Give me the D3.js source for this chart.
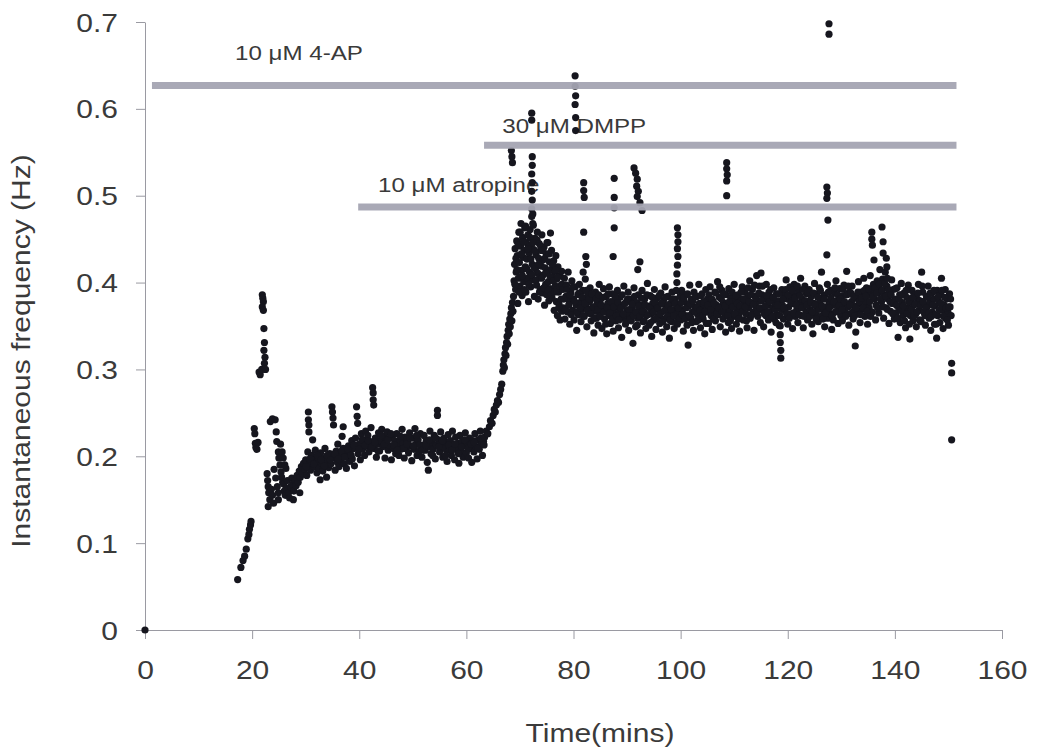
<!DOCTYPE html>
<html>
<head>
<meta charset="utf-8">
<script src="https://cdn.jsdelivr.net/npm/d3@7"></script>
<style>
  html, body { margin: 0; padding: 0; background: #fff; }
  svg { display: block; }
  text { font-family: "Liberation Sans", Arial, sans-serif; fill: #3a3a3a; }
</style>
</head>
<body>
<svg id="chart" width="1043" height="748"></svg>
<script>
// Axis ticks
const xTickValues = [0, 20, 40, 60, 80, 100, 120, 140, 160];
const yTickValues = [0, 0.1, 0.2, 0.3, 0.4, 0.5, 0.6, 0.7];

// Drug applications: label, start (min), end (min), bar level (Hz)
const treatmentNames = ["10 \u03bcM 4-AP", "30 \u03bcM DMPP", "10 \u03bcM atropine"];
const treatmentStart = [1.3, 63.3, 39.8];
const treatmentEnd = [151.5, 151.5, 151.5];
const treatmentLevel = [0.627, 0.558, 0.487];

// Instantaneous frequency recordings, [time (min), frequency (Hz)]
const onsetPoints = [
  [0, 0],
  [17.3,0.058],[17.9,0.072],[18.3,0.080],[18.6,0.085],[18.9,0.093],[19.2,0.105],[19.4,0.110],[19.5,0.116],[19.7,0.121],[19.8,0.125],
  [20.4,0.232],[20.5,0.226],[20.6,0.215],[20.7,0.210],[20.9,0.208],[21.1,0.216],
  [21.3,0.297],[21.5,0.294],[21.8,0.300],
  [21.9,0.386],[22.0,0.382],[22.1,0.378],[21.9,0.372],[22.1,0.368],[22.2,0.347],[22.3,0.331],[22.2,0.322],[22.4,0.314],[22.3,0.307],[22.5,0.300],
  [22.8,0.180],[22.9,0.172],[23.0,0.165],[23.1,0.158],[23.3,0.150],[23.0,0.142],[23.6,0.162],[23.8,0.155],[24.0,0.146],[24.9,0.150],[24.9,0.158],
  [23.4,0.240],[23.8,0.243],[24.3,0.242],[24.5,0.228],[24.6,0.217],[24.9,0.205],[25.0,0.198],[25.2,0.190],[25.4,0.182],[25.5,0.176],
  [25.3,0.214],[25.6,0.205],[25.8,0.198],[26.1,0.190],[26.3,0.186],[24.1,0.185],[24.4,0.175],[24.7,0.165],
  [25.7,0.170],[25.9,0.168],[26.0,0.160],[26.2,0.155],[26.4,0.163],[26.6,0.172],[26.8,0.158],[27.0,0.152],[27.2,0.165],[27.4,0.175],
  [27.6,0.168],[27.7,0.150],[27.8,0.160],[28.0,0.172],[28.2,0.166],[28.4,0.178],[28.6,0.170],[28.8,0.183],[28.9,0.158],[29.0,0.176],
  [29.2,0.188],[29.4,0.180],[29.6,0.192]
];

const plateauPoints = [
  [29.8,0.185],[30.0,0.196],[30.2,0.178],[30.4,0.205],[30.5,0.251],[30.5,0.242],[30.6,0.236],[30.6,0.228],[30.7,0.191],[30.9,0.184],
  [31.1,0.201],[31.3,0.219],[31.4,0.196],[31.6,0.188],[31.8,0.207],[32.0,0.193],[32.1,0.181],[32.3,0.199],[32.5,0.186],[32.7,0.173],
  [32.8,0.204],[33.0,0.192],[33.2,0.183],[33.4,0.198],[33.6,0.209],[33.7,0.189],[33.9,0.176],[34.1,0.195],[34.3,0.187],[34.5,0.203],
  [34.7,0.191],[34.9,0.257],[35.0,0.251],[35.1,0.244],[35.2,0.236],[35.3,0.198],[35.5,0.184],[35.7,0.206],[35.9,0.193],[36.0,0.214],
  [36.2,0.188],[36.4,0.201],[36.6,0.195],[36.8,0.223],[37.0,0.234],[37.0,0.209],[37.2,0.191],[37.4,0.204],[37.6,0.186],[37.8,0.199],
  [38.0,0.212],[38.2,0.194],[38.4,0.207],[38.6,0.218],[38.7,0.197],[38.9,0.209],[39.1,0.189],[39.3,0.221],[39.5,0.257],[39.6,0.246],
  [39.7,0.238],[39.8,0.203],[40.0,0.214],[40.2,0.196],[40.4,0.226],[40.6,0.208],[40.8,0.219],[41.0,0.201],[41.2,0.229],[41.4,0.212],
  [41.6,0.224],[41.8,0.205],[42.0,0.217],[42.2,0.233],[42.5,0.279],[42.6,0.273],[42.6,0.265],[42.7,0.259],[42.8,0.209],[43.0,0.221],
  [43.2,0.199],[43.4,0.214],[43.6,0.227],[43.8,0.206],[44.0,0.218],[44.2,0.231],[44.4,0.211],[44.6,0.223],[44.8,0.198],[45.0,0.216],
  [45.2,0.228],[45.4,0.207],[45.6,0.221],[45.8,0.212],[46.0,0.196],[46.2,0.224],[46.4,0.209],[46.6,0.218],[46.8,0.203],[47.0,0.226],
  [47.2,0.213],[47.4,0.201],[47.6,0.219],[47.8,0.208],[48.0,0.231],[48.2,0.215],[48.4,0.198],[48.6,0.222],[48.8,0.209],[49.0,0.217],
  [49.2,0.204],[49.4,0.227],[49.6,0.212],[49.8,0.195],[50.0,0.221],[50.2,0.208],[50.4,0.232],[50.6,0.214],[50.8,0.201],[51.0,0.219],
  [51.2,0.206],[51.4,0.226],[51.7,0.199],[51.9,0.213],[52.1,0.224],[52.3,0.207],[52.5,0.218],[52.7,0.193],[52.9,0.184],[53.0,0.211],
  [53.2,0.229],[53.4,0.203],[53.6,0.216],[53.8,0.208],[54.0,0.224],[54.2,0.197],[54.4,0.213],[54.6,0.253],[54.6,0.247],[54.8,0.219],
  [55.0,0.205],[55.2,0.228],[55.4,0.212],[55.6,0.199],[55.8,0.221],[56.0,0.209],[56.2,0.216],[56.4,0.194],[56.6,0.225],[56.8,0.207],
  [57.0,0.218],[57.2,0.201],[57.4,0.229],[57.6,0.213],[57.8,0.196],[58.0,0.222],[58.2,0.208],[58.4,0.215],[58.6,0.192],[58.8,0.224],
  [59.0,0.206],[59.2,0.217],[59.4,0.199],[59.6,0.212],[59.8,0.227],[60.0,0.204],[60.2,0.215],[60.4,0.198],[60.6,0.221],[60.8,0.209],
  [61.0,0.193],[61.2,0.218],[61.4,0.205],[61.6,0.226],[61.8,0.211],[62.0,0.197],[62.2,0.219],[62.4,0.208],[62.6,0.229],[62.8,0.214],
  [63.0,0.201],[63.2,0.217],
  [30.1,0.188],[30.8,0.197],[31.5,0.191],[32.2,0.201],[32.9,0.196],[33.5,0.189],[34.0,0.201],[34.6,0.196],[35.4,0.203],[36.1,0.197],
  [36.7,0.206],[37.3,0.199],[37.9,0.208],[38.5,0.201],[39.0,0.213],[39.9,0.208],[40.5,0.219],[41.1,0.213],[41.7,0.218],[42.3,0.211],
  [42.9,0.216],[43.5,0.206],[44.1,0.224],[44.7,0.214],[45.3,0.219],[45.9,0.226],[46.5,0.213],[47.1,0.207],[47.7,0.223],[48.3,0.209],
  [48.9,0.214],[49.5,0.221],[50.1,0.212],[50.7,0.224],[51.3,0.213],[51.8,0.207],[52.4,0.213],[53.1,0.219],[53.7,0.201],[54.3,0.221],
  [54.9,0.211],[55.5,0.218],[56.1,0.201],[56.7,0.213],[57.3,0.207],[57.9,0.214],[58.5,0.203],[59.1,0.211],[59.7,0.219],[60.3,0.209],
  [60.9,0.214],[61.5,0.216],[62.1,0.209],[62.7,0.221],[63.3,0.213]
];

const risePoints = [
  [63.4,0.222],[63.7,0.229],[64.0,0.226],[64.3,0.234],[64.5,0.241],[64.8,0.238],[65.0,0.247],[65.2,0.254],[65.4,0.251],[65.6,0.259],
  [65.8,0.264],[66.0,0.262],[66.2,0.271],[66.4,0.277],[66.6,0.283],[66.8,0.298],[66.9,0.305],[67.0,0.311],[67.1,0.302],[67.2,0.318],
  [67.3,0.325],[67.4,0.316],[67.5,0.331],[67.6,0.338],[67.7,0.329],[67.8,0.345],[67.9,0.352],[68.0,0.341],[68.1,0.358],[68.2,0.349],
  [68.3,0.364],[68.4,0.371],[68.5,0.356],[68.6,0.377],[68.7,0.367]
];

const peakPoints = [
  [68.8,0.384],[68.9,0.402],[69.0,0.421],[69.1,0.439],[69.2,0.392],[69.3,0.412],[69.4,0.448],[69.5,0.431],[69.6,0.376],[69.7,0.405],
  [69.8,0.458],[69.9,0.423],[70.0,0.396],[70.1,0.442],[70.2,0.468],[70.3,0.414],[70.4,0.385],[70.5,0.452],[70.6,0.429],[70.7,0.401],
  [70.8,0.437],[70.9,0.463],[71.0,0.418],[71.1,0.389],[71.2,0.446],[71.3,0.427],[71.4,0.405],[71.5,0.455],[71.6,0.378],[71.7,0.434],
  [71.8,0.412],[71.9,0.461],[72.0,0.395],[72.1,0.443],[72.2,0.476],[72.3,0.421],[72.4,0.468],[72.5,0.403],[72.6,0.438],[72.7,0.384],
  [72.8,0.451],[72.9,0.416],[73.0,0.432],[73.1,0.397],[73.2,0.449],[73.3,0.411],[73.4,0.381],[73.5,0.428],[73.6,0.445],[73.7,0.406],
  [73.8,0.392],[73.9,0.437],[74.0,0.419],[74.1,0.455],[74.2,0.388],[74.3,0.426],[74.4,0.409],[74.5,0.441],[74.6,0.374],[74.7,0.417],
  [74.8,0.398],[74.9,0.433],[75.0,0.386],[75.1,0.412],[75.2,0.446],[75.3,0.401],[75.4,0.379],[75.5,0.424],[75.6,0.393],[75.7,0.457],
  [75.8,0.415],[75.9,0.437],[76.0,0.382],[76.1,0.407],[76.2,0.391],[76.3,0.425],[76.4,0.368],[76.5,0.413],[76.6,0.396],[76.7,0.431],
  [76.8,0.378],[76.9,0.404],[77.0,0.362],[77.1,0.418],[77.2,0.389],[77.3,0.375],[77.4,0.408],[77.5,0.357],[77.6,0.394],[77.7,0.381],
  [77.8,0.413],[77.9,0.367],
  [69.05,0.398],[69.25,0.428],[69.45,0.415],[69.65,0.443],[69.85,0.389],[70.05,0.458],[70.25,0.433],[70.45,0.408],[70.65,0.447],[70.85,0.392],
  [71.05,0.465],[71.25,0.416],[71.45,0.439],[71.65,0.398],[71.85,0.452],[72.05,0.427],[72.25,0.409],[72.45,0.446],[72.65,0.418],[72.85,0.436],
  [73.05,0.403],[73.25,0.458],[73.45,0.421],[73.65,0.389],[73.85,0.442],[74.05,0.405],[74.25,0.437],[74.45,0.394],[74.65,0.428],[74.85,0.411],
  [75.05,0.446],[75.25,0.391],[75.45,0.433],[75.65,0.407],[75.85,0.386],[76.05,0.421],[76.25,0.402],[76.45,0.389],[76.65,0.414],[76.85,0.392],
  [77.05,0.406],[77.25,0.371],[77.45,0.396],[77.65,0.369],[77.85,0.398]
];

const steadyEarly = [
  [78.0,0.392],[78.1,0.371],[78.3,0.405],[78.4,0.358],[78.6,0.384],[78.7,0.397],[78.9,0.366],[79.0,0.412],[79.2,0.379],[79.3,0.352],
  [79.5,0.389],[79.7,0.402],[79.8,0.368],[80.0,0.381],[80.1,0.357],[80.3,0.395],[80.5,0.374],[80.6,0.345],[80.8,0.386],[80.9,0.363],
  [81.1,0.398],[81.2,0.377],[81.4,0.355],[81.5,0.369],[81.7,0.391],[81.9,0.382],[82.0,0.361],[82.2,0.404],[82.3,0.372],[82.5,0.349],
  [82.7,0.386],[82.8,0.365],[83.0,0.378],[83.1,0.394],[83.3,0.356],[83.5,0.371],[83.6,0.383],[83.8,0.342],[84.0,0.367],[84.1,0.389],
  [84.3,0.359],[84.4,0.376],[84.6,0.351],[84.8,0.398],[84.9,0.364],[85.1,0.381],[85.3,0.347],[85.4,0.372],[85.6,0.393],[85.8,0.358],
  [85.9,0.369],[86.1,0.384],[86.2,0.341],[86.4,0.376],[86.6,0.362],[86.7,0.395],[86.9,0.353],[87.1,0.371],[87.2,0.387],[87.4,0.344],
  [87.6,0.365],[87.7,0.379],[87.9,0.356]
];

const steadyMid = [
  [88.1,0.372],[88.2,0.391],[88.4,0.348],[88.6,0.366],[88.7,0.383],[88.9,0.359],[89.0,0.337],[89.2,0.374],[89.4,0.396],[89.5,0.361],
  [89.7,0.352],[89.9,0.378],[90.0,0.368],[90.2,0.389],[90.3,0.345],[90.5,0.363],[90.7,0.381],[90.8,0.356],[91.0,0.372],[91.1,0.330],
  [91.3,0.394],[91.5,0.366],[91.6,0.349],[91.8,0.377],[92.0,0.359],[92.1,0.386],[92.3,0.368],[92.5,0.342],[92.6,0.374],[92.8,0.391],
  [93.0,0.355],[93.1,0.367],[93.3,0.381],[93.5,0.347],[93.6,0.362],[93.8,0.399],[94.0,0.373],[94.1,0.351],[94.3,0.385],[94.5,0.364],
  [94.6,0.338],[94.8,0.376],[95.0,0.357],[95.1,0.392],[95.3,0.369],[95.4,0.346],[95.6,0.382],[95.8,0.361],[95.9,0.374],[96.1,0.353],
  [96.3,0.388],[96.4,0.366],[96.6,0.343],[96.8,0.379],[96.9,0.358],[97.1,0.395],[97.3,0.371],[97.4,0.349],[97.6,0.384],[97.8,0.363],
  [97.9,0.336],[98.1,0.376],[98.3,0.355],[98.4,0.389],[98.6,0.368],[98.8,0.347],[98.9,0.381],[99.1,0.361],[99.3,0.372],[99.4,0.352],
  [99.7,0.365],[99.9,0.384],
  [100.0,0.357],[100.2,0.391],[100.4,0.369],[100.5,0.344],[100.7,0.378],[100.9,0.362],[101.0,0.386],[101.2,0.351],[101.4,0.328],[101.5,0.373],
  [101.7,0.397],[101.9,0.359],[102.0,0.381],[102.2,0.366],[102.4,0.345],[102.5,0.389],[102.7,0.372],[102.9,0.355],[103.0,0.384],[103.2,0.363],
  [103.4,0.398],[103.5,0.376],[103.7,0.348],[103.9,0.369],[104.0,0.387],[104.2,0.358],[104.4,0.374],[104.5,0.341],[104.7,0.392],[104.9,0.366],
  [105.0,0.381],[105.2,0.353],[105.4,0.371],[105.5,0.395],[105.7,0.362],[105.9,0.346],[106.0,0.379],[106.2,0.368],[106.4,0.389],[106.5,0.356],
  [106.7,0.374],[106.9,0.401],[107.0,0.363],[107.2,0.383],[107.4,0.349],[107.5,0.372],[107.7,0.391],[107.9,0.358],[108.0,0.377],[108.2,0.365],
  [108.4,0.343],[108.5,0.386],[108.7,0.371],[108.9,0.354],[109.0,0.393],[109.2,0.367],[109.4,0.382],[109.5,0.347],[109.7,0.375],[109.9,0.361],
  [110.0,0.398],[110.2,0.379],[110.4,0.352],[110.5,0.369],[110.7,0.386],[110.9,0.363],[111.0,0.344],[111.2,0.381],[111.4,0.372],[111.5,0.395],
  [111.7,0.357],[111.9,0.376]
];

const steadyLate = [
  [112.0,0.389],[112.2,0.364],[112.4,0.348],[112.5,0.383],[112.7,0.371],[112.9,0.402],[113.0,0.359],[113.2,0.377],[113.4,0.392],[113.5,0.366],
  [113.7,0.345],[113.9,0.384],[114.0,0.373],[114.2,0.408],[114.4,0.361],[114.5,0.379],[114.7,0.396],[114.9,0.354],[115.0,0.411],[115.2,0.386],
  [115.4,0.368],[115.5,0.349],[115.7,0.381],[115.9,0.362],[116.0,0.398],[116.2,0.374],[116.4,0.357],[116.5,0.389],[116.7,0.366],[116.9,0.343],
  [117.0,0.382],[117.2,0.371],[117.4,0.394],[117.5,0.358],[117.7,0.376],[117.9,0.387],[118.0,0.363],[118.2,0.379],[118.4,0.351],[118.6,0.350],
  [118.6,0.340],[118.6,0.331],[118.7,0.322],[118.7,0.313],[118.8,0.369],[118.9,0.392],[119.0,0.374],[119.2,0.358],[119.4,0.386],[119.5,0.367],
  [119.7,0.403],[119.9,0.381],[120.0,0.352],[120.2,0.372],[120.4,0.395],[120.5,0.364],[120.7,0.383],[120.9,0.347],[121.0,0.376],[121.2,0.398],
  [121.4,0.361],[121.5,0.385],[121.7,0.369],[121.9,0.354],[122.0,0.391],[122.2,0.377],[122.4,0.405],[122.5,0.362],[122.7,0.381],[122.9,0.348],
  [123.0,0.373],[123.2,0.396],[123.4,0.366],[123.5,0.387],[123.7,0.357],[123.9,0.378],
  [124.0,0.392],[124.2,0.369],[124.4,0.384],[124.5,0.352],[124.7,0.341],[124.9,0.376],[125.0,0.399],[125.2,0.363],[125.4,0.387],[125.5,0.371],
  [125.7,0.355],[125.9,0.394],[126.0,0.378],[126.2,0.361],[126.3,0.412],[126.5,0.383],[126.7,0.368],[126.9,0.349],[127.0,0.386],[127.2,0.372],
  [127.4,0.398],[127.5,0.359],[127.7,0.378],[127.9,0.364],[128.0,0.391],[128.2,0.346],[128.4,0.374],[128.5,0.357],[128.7,0.388],[128.9,0.366],
  [129.0,0.402],[129.2,0.379],[129.4,0.353],[129.5,0.371],[129.7,0.393],[129.9,0.362],[130.0,0.384],[130.2,0.356],[130.4,0.375],[130.5,0.397],
  [130.7,0.367],[130.9,0.386],[131.0,0.413],[131.2,0.372],[131.4,0.351],[131.5,0.389],[131.7,0.364],[131.9,0.378],[132.0,0.396],[132.2,0.358],
  [132.4,0.373],[132.6,0.327],[132.7,0.343],[132.9,0.382],[133.0,0.365],[133.2,0.401],[133.4,0.376],[133.5,0.354],[133.7,0.389],[133.9,0.369],
  [134.0,0.383],[134.2,0.405],[134.4,0.361],[134.5,0.377],[134.7,0.394],[134.9,0.352],[135.0,0.386],[135.2,0.371],[135.4,0.408],[135.6,0.389],
  [135.8,0.366]
];

const steadyEnd = [
  [136.0,0.398],[136.1,0.426],[136.2,0.381],[136.4,0.357],[136.5,0.374],[136.7,0.402],[136.9,0.388],[137.0,0.365],[137.2,0.415],[137.4,0.392],
  [137.5,0.378],[137.7,0.404],[137.9,0.359],[138.0,0.386],[138.2,0.412],[138.4,0.371],[138.5,0.396],[138.7,0.381],[138.9,0.353],[139.0,0.389],
  [139.2,0.367],[139.4,0.403],[139.5,0.376],[139.7,0.392],[139.9,0.358],[140.0,0.381],[140.2,0.365],[140.4,0.394],[140.6,0.337],[140.7,0.372],
  [140.9,0.386],[141.0,0.354],[141.2,0.399],[141.4,0.377],[141.5,0.362],[141.7,0.388],[141.9,0.369],[142.0,0.348],[142.2,0.383],[142.4,0.371],
  [142.5,0.397],[142.8,0.335],[142.9,0.362],[143.0,0.378],[143.2,0.391],[143.4,0.356],[143.5,0.374],[143.7,0.386],[143.9,0.364],[144.0,0.349],
  [144.2,0.381],[144.4,0.398],[144.5,0.368],[144.7,0.379],[144.9,0.355],[145.0,0.412],[145.2,0.389],[145.4,0.366],[145.5,0.374],[145.7,0.351],
  [145.9,0.384],[146.0,0.372],[146.2,0.396],[146.4,0.359],[146.5,0.377],[146.7,0.345],[146.9,0.388],[147.0,0.366],[147.2,0.381],[147.4,0.352],
  [147.5,0.373],[147.8,0.336],[147.9,0.391],[148.0,0.362],[148.2,0.378],[148.4,0.354],[148.5,0.386],[148.7,0.405],[148.9,0.368],[149.0,0.347],
  [149.2,0.374],[149.4,0.392],[149.5,0.359],[149.7,0.381],[149.9,0.366],[150.0,0.351],[150.2,0.387],[150.3,0.372],[150.5,0.362],
  [150.6,0.307],[150.6,0.296],[150.6,0.219]
];

// Densest part of the post-DMPP band
const steadyCore = [
  [78.2,0.381],[78.5,0.369],[78.8,0.392],[79.1,0.374],[79.4,0.386],[79.6,0.363],[79.9,0.395],[80.2,0.378],[80.7,0.366],[81.0,0.388],
  [81.3,0.371],[81.6,0.383],[81.8,0.362],[82.1,0.376],[82.4,0.391],[82.6,0.368],[82.9,0.381],[83.2,0.364],[83.4,0.387],[83.7,0.372],
  [83.9,0.359],[84.2,0.381],[84.5,0.369],[84.7,0.386],[85.0,0.361],[85.2,0.374],[85.5,0.383],[85.7,0.366],[86.0,0.352],[86.3,0.371],
  [86.5,0.387],[86.8,0.365],[87.0,0.378],[87.3,0.358],[87.5,0.372],[87.8,0.384],[88.0,0.362],[88.3,0.377],[88.5,0.357],[88.8,0.371],
  [89.1,0.386],[89.3,0.364],[89.6,0.376],[89.8,0.355],[90.1,0.381],[90.4,0.369],[90.6,0.358],[90.9,0.375],[91.2,0.362],[91.4,0.384],
  [91.7,0.366],[91.9,0.351],[92.2,0.373],[92.4,0.361],[92.7,0.382],[92.9,0.367],[93.2,0.356],[93.4,0.374],[93.7,0.386],[93.9,0.363],
  [94.2,0.371],[94.4,0.354],[94.7,0.383],[94.9,0.366],[95.2,0.377],[95.5,0.359],[95.7,0.371],[96.0,0.385],[96.2,0.364],[96.5,0.376],
  [96.7,0.355],[97.0,0.368],[97.2,0.383],[97.5,0.361],[97.7,0.374],[98.0,0.357],[98.2,0.369],[98.5,0.381],[98.7,0.362],[99.0,0.376],
  [99.2,0.354],[99.6,0.371],[99.8,0.359],[100.1,0.377],[100.3,0.363],[100.6,0.382],[100.8,0.358],[101.1,0.371],[101.3,0.387],[101.6,0.362],
  [101.8,0.376],[102.1,0.354],[102.3,0.379],[102.6,0.366],[102.8,0.384],[103.1,0.371],[103.3,0.357],[103.6,0.368],[103.8,0.385],[104.1,0.362],
  [104.3,0.378],[104.6,0.367],[104.8,0.353],[105.1,0.374],[105.3,0.386],[105.6,0.369],[105.8,0.381],[106.1,0.358],[106.3,0.376],[106.6,0.388],
  [106.8,0.364],[107.1,0.371],[107.3,0.395],[107.6,0.381],[107.8,0.366],[108.1,0.387],[108.3,0.373],[108.8,0.362],[109.1,0.378],[109.3,0.356],
  [109.6,0.389],[109.8,0.372],[110.1,0.364],[110.3,0.385],[110.6,0.376],[110.8,0.358],[111.1,0.373],[111.3,0.389],[111.6,0.367],[111.8,0.381],
  [112.1,0.372],[112.3,0.356],[112.6,0.394],[112.8,0.378],[113.1,0.386],[113.3,0.363],[113.6,0.375],[113.8,0.397],[114.1,0.382],[114.3,0.366],
  [114.6,0.388],[114.8,0.371],[115.1,0.379],[115.3,0.396],[115.6,0.364],[115.8,0.373],[116.1,0.385],[116.3,0.366],[116.6,0.378],[116.8,0.392],
  [117.1,0.361],[117.3,0.383],[117.6,0.369],[117.8,0.354],[118.1,0.374],[118.3,0.387],[118.5,0.362],[119.1,0.381],[119.3,0.371],[119.6,0.392],
  [119.8,0.364],[120.1,0.386],[120.3,0.359],[120.6,0.377],[120.8,0.391],[121.1,0.365],[121.3,0.382],[121.6,0.374],[121.8,0.396],[122.1,0.363],
  [122.3,0.385],[122.6,0.371],[122.8,0.392],[123.1,0.361],[123.3,0.379],[123.6,0.374],[123.8,0.389],[124.1,0.361],[124.3,0.377],[124.6,0.366],
  [124.8,0.388],[125.1,0.374],[125.3,0.358],[125.6,0.383],[125.8,0.369],[126.1,0.391],[126.4,0.373],[126.6,0.358],[126.8,0.381],[127.1,0.365],
  [127.6,0.389],[127.8,0.371],[128.1,0.382],[128.3,0.362],[128.6,0.378],[128.8,0.394],[129.1,0.367],[129.3,0.386],[129.6,0.374],[129.8,0.381],
  [130.1,0.369],[130.3,0.392],[130.6,0.378],[130.8,0.361],[131.1,0.386],[131.3,0.396],[131.6,0.374],[131.8,0.388],[132.1,0.366],[132.3,0.384],
  [132.5,0.362],[132.8,0.371],[133.1,0.389],[133.3,0.378],[133.6,0.363],[133.8,0.382],[134.1,0.371],[134.3,0.391],[134.6,0.384],[134.8,0.367],
  [135.1,0.393],[135.3,0.378],[135.5,0.361],[135.9,0.384],[136.3,0.394],[136.6,0.388],[136.8,0.371],[137.1,0.398],[137.3,0.381],[137.6,0.391],
  [137.8,0.372],[138.1,0.399],[138.3,0.384],[138.6,0.369],[138.8,0.392],[139.1,0.378],[139.3,0.386],[139.6,0.364],[139.8,0.377],[140.1,0.393],
  [140.3,0.374],[140.5,0.359],[140.8,0.381],[141.1,0.368],[141.3,0.386],[141.6,0.373],[141.8,0.356],[142.1,0.391],[142.3,0.364],[142.6,0.378],
  [142.7,0.352],[143.1,0.369],[143.3,0.383],[143.6,0.362],[143.8,0.375],[144.1,0.366],[144.3,0.388],[144.6,0.357],[144.8,0.374],[145.1,0.396],
  [145.3,0.378],[145.6,0.362],[145.8,0.371],[146.1,0.383],[146.3,0.365],[146.6,0.388],[146.8,0.361],[147.1,0.374],[147.3,0.391],[147.6,0.363],
  [147.7,0.352],[148.1,0.384],[148.3,0.369],[148.6,0.376],[148.8,0.391],[149.1,0.361],[149.3,0.383],[149.6,0.371],[149.8,0.357],[150.1,0.372],
  [150.4,0.381]
];

// Brief high-frequency excursions above the main band
const excursionPoints = [
  [68.4,0.552],[68.5,0.545],[68.6,0.538],
  [72.2,0.595],[72.2,0.587],[72.3,0.545],[72.3,0.535],[72.2,0.525],[72.3,0.515],[72.2,0.505],[72.3,0.495],[72.2,0.485],[72.4,0.479],[72.5,0.466],
  [80.3,0.638],[80.3,0.626],[80.4,0.615],[80.3,0.605],[80.4,0.590],[80.4,0.575],
  [81.9,0.515],[81.9,0.506],[82.0,0.498],[81.9,0.458],[82.3,0.430],[82.4,0.421],[81.8,0.412],
  [87.6,0.520],[87.6,0.498],[87.6,0.486],[87.6,0.463],[87.4,0.430],
  [91.3,0.532],[91.6,0.526],[91.9,0.519],[91.8,0.511],[92.1,0.505],[91.9,0.499],[92.4,0.492],[92.8,0.483],[92.4,0.424],[92.0,0.415],
  [99.4,0.463],[99.5,0.455],[99.5,0.447],[99.4,0.439],[99.5,0.430],[99.4,0.420],[99.3,0.410],[99.3,0.400],[99.2,0.391],
  [108.6,0.538],[108.6,0.531],[108.7,0.524],[108.6,0.517],[108.6,0.500],
  [127.3,0.510],[127.4,0.503],[127.3,0.497],[127.5,0.472],[127.3,0.432],
  [127.7,0.698],[127.7,0.686],
  [135.7,0.458],[135.7,0.450],[135.8,0.443],[137.6,0.464],[137.8,0.447],[137.8,0.434],[138.4,0.428],[138.5,0.418],[138.6,0.405]
];

const allPoints = [].concat(onsetPoints, plateauPoints, risePoints, peakPoints,
  steadyEarly, steadyMid, steadyLate, steadyEnd, steadyCore, excursionPoints);

// ---- drawing ----
const svg = d3.select("#chart");
const x = d3.scaleLinear().domain([0, 160]).range([145, 1002]);
const y = d3.scaleLinear().domain([0, 0.7]).range([630, 22]);
const stretch = 1.2;
const axisColor = "#9a9aa2";

svg.append("rect").attr("width", 1043).attr("height", 748).attr("fill", "#fff");

// Y axis
const yAxis = svg.append("g")
  .attr("transform", `translate(${x(0)},0)`)
  .call(d3.axisLeft(y).tickValues(yTickValues).tickSize(9).tickSizeOuter(0)
    .tickFormat(d => d === 0 ? "0" : d3.format(".1f")(d)));
yAxis.select(".domain").attr("stroke", axisColor);
yAxis.selectAll(".tick line").attr("stroke", axisColor);
yAxis.selectAll(".tick text")
  .attr("font-size", 25).attr("fill", "#3a3a3a")
  .attr("x", -27 / stretch).attr("dy", "0.36em")
  .attr("transform", `scale(${stretch},1)`);

// X axis
const xAxis = svg.append("g")
  .attr("transform", `translate(0,${y(0)})`)
  .call(d3.axisBottom(x).tickValues(xTickValues).tickSize(9).tickSizeOuter(0).tickFormat(d3.format("d")));
xAxis.select(".domain").attr("stroke", axisColor);
xAxis.selectAll(".tick line").attr("stroke", axisColor);
xAxis.selectAll(".tick text")
  .attr("font-size", 25).attr("fill", "#3a3a3a")
  .attr("y", 49).attr("dy", 0)
  .attr("transform", `scale(${stretch},1)`);

// Axis titles
svg.append("text")
  .attr("transform", `translate(600,742) scale(${stretch},1)`)
  .attr("text-anchor", "middle").attr("font-size", 25)
  .text("Time(mins)");
svg.append("text")
  .attr("transform", `translate(30,351) rotate(-90) scale(${stretch},1)`)
  .attr("text-anchor", "middle").attr("font-size", 25)
  .text("Instantaneous frequency (Hz)");

// Treatment labels (drawn beneath the data points)
const labelOffsets = [[15.5, 0.029], [3.4, 0.014], [3.7, 0.017]];
svg.append("g").selectAll("text")
  .data(treatmentNames)
  .join("text")
  .attr("transform", (d, i) => {
    const lx = x(treatmentStart[i] + labelOffsets[i][0]);
    const ly = y(treatmentLevel[i] + labelOffsets[i][1]);
    return `translate(${lx},${ly}) scale(1.15,1)`;
  })
  .attr("font-size", 21)
  .text(d => d);

// Data points
svg.append("g").selectAll("circle")
  .data(allPoints)
  .join("circle")
  .attr("cx", d => x(d[0]))
  .attr("cy", d => y(d[1]))
  .attr("r", 3.6)
  .attr("fill", "#16161e");

// Treatment bars
svg.append("g").selectAll("line")
  .data(treatmentNames)
  .join("line")
  .attr("x1", (d, i) => x(treatmentStart[i]))
  .attr("x2", (d, i) => x(treatmentEnd[i]))
  .attr("y1", (d, i) => y(treatmentLevel[i]))
  .attr("y2", (d, i) => y(treatmentLevel[i]))
  .attr("stroke", "#a4a4b2")
  .attr("stroke-width", 7)
  .attr("stroke-opacity", 0.95);
</script>
</body>
</html>
